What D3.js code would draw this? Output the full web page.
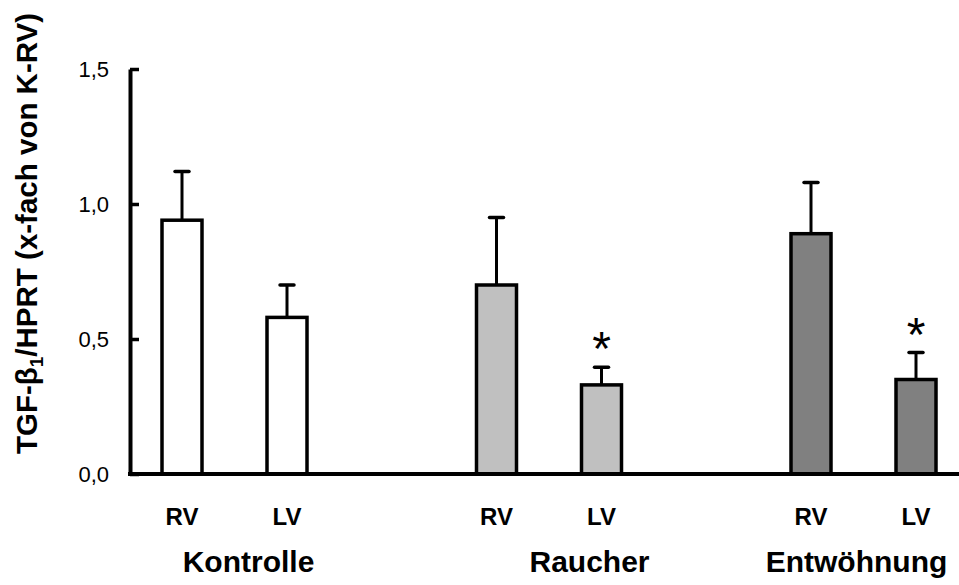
<!DOCTYPE html>
<html>
<head>
<meta charset="utf-8">
<script src="https://cdn.jsdelivr.net/npm/d3@7"></script>
<style>
  html, body { margin: 0; padding: 0; background: #fff; }
  svg { display: block; font-family: "Liberation Sans", Arial, sans-serif; }
</style>
</head>
<body>
<svg id="chart" width="959" height="585"></svg>
<script>
// TGF-beta1 / HPRT expression, fold of control RV, mean with upper SEM
const groups = ["Kontrolle", "Raucher", "Entwöhnung"];
const ventricles = ["RV", "LV"];
const meanRV = [0.94, 0.70, 0.89];
const meanLV = [0.58, 0.33, 0.35];
const semRV = [0.18, 0.25, 0.19];
const semLV = [0.12, 0.065, 0.10];
const significantLV = [false, true, true];
const groupFills = ["#ffffff", "#c0c0c0", "#808080"];
const yTicks = [0, 0.5, 1.0, 1.5];

const rows = [];
groups.forEach((g, i) => {
  rows.push({ group: g, ventricle: "RV", mean: meanRV[i], sem: semRV[i], sig: false, fill: groupFills[i] });
  rows.push({ group: g, ventricle: "LV", mean: meanLV[i], sem: semLV[i], sig: significantLV[i], fill: groupFills[i] });
});

const svg = d3.select("#chart");

const axisX = 130, baseY = 474, topY = 69;
const barW = 40;

const y = d3.scaleLinear().domain([0, 1.5]).range([baseY, topY]);
const xGroup = d3.scalePoint().domain(groups).range([234.5, 863.5]);
const xSub = d3.scalePoint().domain(ventricles).range([-52.5, 52.5]);
const cx = d => xGroup(d.group) + xSub(d.ventricle);

const de = d3.formatLocale({ decimal: ",", thousands: ".", grouping: [3], currency: ["", " €"] });

// y axis with inward ticks
const yAxis = d3.axisLeft(y)
  .tickValues(yTicks)
  .tickFormat(de.format(".1f"))
  .tickSizeInner(-9)
  .tickSizeOuter(0)
  .tickPadding(21);

const gY = svg.append("g").attr("transform", `translate(${axisX},0)`).call(yAxis);
gY.select(".domain").attr("stroke", "#000").attr("stroke-width", 4);
gY.selectAll(".tick line").attr("stroke", "#000").attr("stroke-width", 3.5);
gY.selectAll(".tick text")
  .attr("fill", "#000")
  .style("font-size", "22px")
  .style("font-family", "'Liberation Sans', Arial, sans-serif");

// error bars (upper only)
const err = svg.append("g").attr("stroke", "#000").attr("stroke-width", 3);
err.selectAll("line.stem").data(rows).join("line")
  .attr("class", "stem")
  .attr("x1", cx).attr("x2", cx)
  .attr("y1", d => y(d.mean)).attr("y2", d => y(d.mean + d.sem));
err.selectAll("line.cap").data(rows).join("line")
  .attr("class", "cap")
  .attr("stroke-width", 3.5)
  .attr("stroke-linecap", "round")
  .attr("x1", d => cx(d) - 7).attr("x2", d => cx(d) + 7)
  .attr("y1", d => y(d.mean + d.sem)).attr("y2", d => y(d.mean + d.sem));

// bars
svg.append("g").selectAll("rect").data(rows).join("rect")
  .attr("x", d => cx(d) - barW / 2)
  .attr("y", d => y(d.mean))
  .attr("width", barW)
  .attr("height", d => y(0) - y(d.mean))
  .attr("fill", d => d.fill)
  .attr("stroke", "#000")
  .attr("stroke-width", 3.5);

// baseline
svg.append("line")
  .attr("x1", axisX - 2).attr("x2", 959)
  .attr("y1", y(0)).attr("y2", y(0))
  .attr("stroke", "#000").attr("stroke-width", 4);

// significance marks
svg.append("g").selectAll("text").data(rows.filter(d => d.sig)).join("text")
  .attr("x", cx)
  .attr("y", d => y(d.mean + d.sem) - 2)
  .attr("text-anchor", "middle")
  .style("font-size", "48px")
  .attr("fill", "#000")
  .text("*");

// ventricle labels
svg.append("g").selectAll("text").data(rows).join("text")
  .attr("x", cx)
  .attr("y", 525)
  .attr("text-anchor", "middle")
  .style("font-size", "24px")
  .style("font-weight", "bold")
  .attr("fill", "#000")
  .text(d => d.ventricle);

// group labels
const groupLabelShift = [14, 40.5, -7];
svg.append("g").selectAll("text").data(groups).join("text")
  .attr("x", (g, i) => xGroup(g) + groupLabelShift[i])
  .attr("y", 572)
  .attr("text-anchor", "middle")
  .style("font-size", "30px")
  .style("font-weight", "bold")
  .attr("fill", "#000")
  .text(g => g);

// y axis title
const title = svg.append("text")
  .attr("transform", "translate(37,233.5) rotate(-90)")
  .attr("text-anchor", "middle")
  .style("font-size", "29.5px")
  .style("font-weight", "bold")
  .attr("fill", "#000");
title.append("tspan").text("TGF-β");
title.append("tspan").attr("dy", 6).style("font-size", "19px").text("1");
title.append("tspan").attr("dy", -6).text("/HPRT (x-fach von K-RV)");
</script>
</body>
</html>
